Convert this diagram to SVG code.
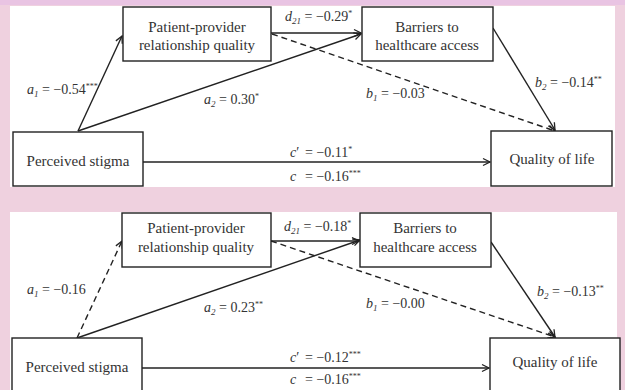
<svg xmlns="http://www.w3.org/2000/svg" width="625" height="390" viewBox="0 0 625 390">
<defs>
<marker id="arr" markerWidth="10" markerHeight="10" refX="8" refY="5" orient="auto" markerUnits="userSpaceOnUse">
<path d="M1,1.5 L8,5 L1,8.5" fill="none" stroke="#222" stroke-width="1.3"/>
</marker>
<style>
.box{fill:#fff;stroke:#222;stroke-width:1.4}
.t{font-family:"Liberation Serif","Times New Roman",serif;font-size:15px;fill:#333;text-anchor:middle}
.l{font-family:"Liberation Serif","Times New Roman",serif;font-size:14px;fill:#333}
.i{font-style:italic}
.sub{font-size:9px;font-style:italic}
.sup{font-size:8px}
.ln{stroke:#222;stroke-width:1.4;fill:none;marker-end:url(#arr)}
.ds{stroke-dasharray:6,4}
</style>
</defs>
<rect x="0" y="0" width="625" height="390" fill="#efd1df"/>
<rect x="0" y="0" width="625" height="5" fill="#e9c4e3"/>
<rect x="10" y="6" width="605" height="181" fill="#fff"/>
<rect x="10" y="212" width="607" height="178" fill="#fff"/>

<g id="top-connectors">
<path class="ln" d="M78,131 L122,36"/>
<path class="ln" d="M78,131 L361,34"/>
<path class="ln" d="M271,33 L361,33"/>
<path class="ln ds" d="M272,34 L555,131"/>
<path class="ln" d="M493,28 L555,130"/>
<path class="ln" d="M143,162 L490,162"/>
</g>
<g id="top-pp"><rect class="box" x="123" y="7" width="148" height="54"/><text class="t" x="197" y="32">Patient-provider</text><text class="t" x="197" y="50">relationship quality</text></g>
<g id="top-ba"><rect class="box" x="362" y="7" width="131" height="54"/><text class="t" x="427" y="32">Barriers to</text><text class="t" x="427" y="50">healthcare access</text></g>
<g id="top-ps"><rect class="box" x="13" y="132" width="130" height="54"/><text class="t" x="78" y="166">Perceived stigma</text></g>
<g id="top-ql"><rect class="box" x="491" y="131" width="121" height="55"/><text class="t" x="552" y="164">Quality of life</text></g>
<g id="top-labels">
<text class="l" x="285" y="21"><tspan class="i">d</tspan><tspan class="sub" dy="3">21</tspan><tspan dy="-3"> = −0.29</tspan><tspan class="sup" dy="-5">*</tspan></text>
<text class="l" x="27" y="94"><tspan class="i">a</tspan><tspan class="sub" dy="3">1</tspan><tspan dy="-3"> = −0.54</tspan><tspan class="sup" dy="-5">***</tspan></text>
<text class="l" x="204" y="104"><tspan class="i">a</tspan><tspan class="sub" dy="3">2</tspan><tspan dy="-3"> = 0.30</tspan><tspan class="sup" dy="-5">*</tspan></text>
<text class="l" x="366" y="98"><tspan class="i">b</tspan><tspan class="sub" dy="3">1</tspan><tspan dy="-3"> = −0.03</tspan></text>
<text class="l" x="535" y="87"><tspan class="i">b</tspan><tspan class="sub" dy="3">2</tspan><tspan dy="-3"> = −0.14</tspan><tspan class="sup" dy="-5">**</tspan></text>
<text class="l" x="290" y="157"><tspan class="i">c</tspan>′<tspan x="305">= −0.11</tspan><tspan class="sup" dy="-5">*</tspan></text>
<text class="l" x="290" y="181"><tspan class="i">c</tspan><tspan x="305">= −0.16</tspan><tspan class="sup" dy="-5">***</tspan></text>
</g>

<g id="bottom-connectors">
<path class="ln ds" d="M77,338 L122,241"/>
<path class="ln" d="M77,338 L360,240"/>
<path class="ln" d="M271,241 L359,241"/>
<path class="ln ds" d="M271,241 L555,337"/>
<path class="ln" d="M491,242 L555,337"/>
<path class="ln" d="M142,368 L489,368"/>
</g>
<g id="bot-pp"><rect class="box" x="122" y="213" width="149" height="54"/><text class="t" x="196" y="233">Patient-provider</text><text class="t" x="196" y="252">relationship quality</text></g>
<g id="bot-ba"><rect class="box" x="360" y="213" width="131" height="54"/><text class="t" x="425" y="233">Barriers to</text><text class="t" x="425" y="252">healthcare access</text></g>
<g id="bot-ps"><rect class="box" x="12" y="338" width="130" height="60"/><text class="t" x="77" y="372">Perceived stigma</text></g>
<g id="bot-ql"><rect class="box" x="490" y="338" width="130" height="60"/><text class="t" x="555" y="367">Quality of life</text></g>
<g id="bottom-labels">
<text class="l" x="284" y="231"><tspan class="i">d</tspan><tspan class="sub" dy="3">21</tspan><tspan dy="-3"> = −0.18</tspan><tspan class="sup" dy="-5">*</tspan></text>
<text class="l" x="27" y="294"><tspan class="i">a</tspan><tspan class="sub" dy="3">1</tspan><tspan dy="-3"> = −0.16</tspan></text>
<text class="l" x="204" y="312"><tspan class="i">a</tspan><tspan class="sub" dy="3">2</tspan><tspan dy="-3"> = 0.23</tspan><tspan class="sup" dy="-5">**</tspan></text>
<text class="l" x="366" y="308"><tspan class="i">b</tspan><tspan class="sub" dy="3">1</tspan><tspan dy="-3"> = −0.00</tspan></text>
<text class="l" x="537" y="296"><tspan class="i">b</tspan><tspan class="sub" dy="3">2</tspan><tspan dy="-3"> = −0.13</tspan><tspan class="sup" dy="-5">**</tspan></text>
<text class="l" x="290" y="362"><tspan class="i">c</tspan>′<tspan x="305">= −0.12</tspan><tspan class="sup" dy="-5">***</tspan></text>
<text class="l" x="290" y="384"><tspan class="i">c</tspan><tspan x="305">= −0.16</tspan><tspan class="sup" dy="-5">***</tspan></text>
</g>
</svg>
